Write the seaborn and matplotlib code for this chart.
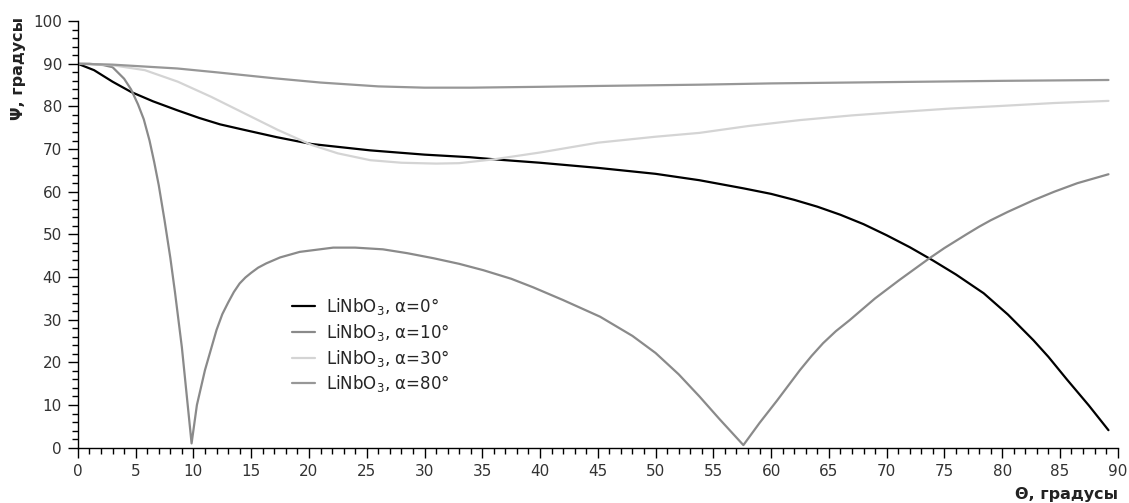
import pandas as pd
import matplotlib
matplotlib.use('Agg')
import matplotlib.pyplot as plt
from matplotlib.ticker import MultipleLocator
import seaborn as sns

# --- данные ---
theta_a0 = [0, 1.4, 3, 4.6, 6.5, 8.6, 10.5, 12.3, 14.4, 17.2, 20.2, 25.3, 30, 33.9,
            36.5, 40, 45, 50, 53.8, 57.6, 60, 62, 64, 66, 68, 70, 72, 74, 76, 78.4,
            80.5, 82.7, 84, 85.6, 87.5, 89.2]
psi_a0 = [90, 88.5, 85.8, 83.4, 81.2, 79.1, 77.3, 75.8, 74.5, 72.8, 71.2, 69.7, 68.7, 68.1,
          67.5, 66.8, 65.6, 64.2, 62.7, 60.8, 59.5, 58.1, 56.5, 54.6, 52.4, 49.8, 47.0,
          43.9, 40.6, 36.2, 31.2, 25.2, 21.3, 16.0, 9.9, 4.1]

theta_a10 = [0, 1, 2.2, 3, 4, 4.6, 5.2, 5.7, 6.2, 6.6, 7.0, 7.5, 8.0, 8.4, 9.0, 9.84,
             10.3, 11, 12, 12.5, 13, 13.5, 14, 14.5, 15, 15.6, 16.3, 17.5, 19.2, 22.1, 24,
             26.4, 28.5, 30.8, 33, 35.1, 37.5, 39.4, 42, 45.2, 48, 50, 52, 53.8, 55.5,
             57.6, 58.3, 59, 60.5, 62.5, 63.5, 64.5, 65.6, 66.8, 69, 71.1, 73.7, 75,
             76.9, 78, 79, 80.5, 82.7, 84.5, 86.5, 89.2]
psi_a10 = [90, 90, 89.7, 89.2, 86.5, 84.0, 80.5, 77.0, 72.0, 67.0, 61.5, 53.3, 44.5, 36.5,
           23.5, 1.0, 10.0, 18.2, 27.6, 31.3, 34.0, 36.5, 38.5, 39.9, 41.0, 42.2, 43.2,
           44.6, 45.9, 46.9, 46.9, 46.5, 45.6, 44.4, 43.1, 41.6, 39.6, 37.6, 34.6, 30.7,
           26.2, 22.2, 17.2, 12.0, 6.8, 0.6, 3.2, 5.8, 11.0, 18.2, 21.5, 24.5, 27.3, 29.9,
           35.0, 39.3, 44.4, 46.8, 50.0, 51.8, 53.3, 55.3, 58.0, 60.0, 62.0, 64.1]

theta_a30 = [0, 2.9, 5.8, 8.65, 11.5, 14.4, 17.3, 20.2, 22.5, 25.3, 28, 31, 33, 36,
             40, 45, 50, 53.8, 58, 62.5, 67, 71.1, 75.5, 79.8, 84.5, 89.2]
psi_a30 = [90, 89.7, 88.5, 85.8, 82.3, 78.4, 74.5, 71.0, 69.0, 67.4, 66.8, 66.6, 66.7, 67.6,
           69.2, 71.5, 72.9, 73.8, 75.4, 76.8, 77.9, 78.7, 79.5, 80.1, 80.8, 81.3]

theta_a80 = [0, 3, 8.6, 12, 17, 21, 26, 30, 34, 40, 45, 53.8, 60, 70, 80, 89.2]
psi_a80 = [90, 89.8, 88.9, 88.0, 86.6, 85.6, 84.7, 84.4, 84.4, 84.6, 84.8, 85.1, 85.4,
           85.7, 86.0, 86.2]

labels = ['LiNbO$_3$, α=0°', 'LiNbO$_3$, α=10°', 'LiNbO$_3$, α=30°', 'LiNbO$_3$, α=80°']
colors = ['#000000', '#8a8a8a', '#d4d4d4', '#979797']

series = [(theta_a0, psi_a0), (theta_a10, psi_a10), (theta_a30, psi_a30), (theta_a80, psi_a80)]

sns.set_style('ticks')
plt.rcParams['font.family'] = ['DejaVu Sans']

fig = plt.figure(figsize=(11.29, 5.03), dpi=100)
ax = fig.add_axes([0.069, 0.110, 0.921, 0.848])

for (th, ps), lab, col in zip(series, labels, colors):
    df = pd.DataFrame({'theta': th, 'psi': ps})
    sns.lineplot(data=df, x='theta', y='psi', ax=ax, color=col, linewidth=1.6,
                 label=lab, estimator=None, sort=False)

ax.set_xlim(0, 90)
ax.set_ylim(0, 100)
ax.xaxis.set_major_locator(MultipleLocator(5))
ax.xaxis.set_minor_locator(MultipleLocator(1))
ax.yaxis.set_major_locator(MultipleLocator(10))
ax.yaxis.set_minor_locator(MultipleLocator(2))
ax.tick_params(which='major', length=7.5, width=1, color='black',
               labelsize=11, labelcolor='#333333', pad=4)
ax.tick_params(which='minor', length=4, width=1, color='black')
sns.despine(ax=ax)
for s in ['left', 'bottom']:
    ax.spines[s].set_color('black')
    ax.spines[s].set_linewidth(1)

ax.set_xlabel('')
ax.set_ylabel('')
fig.text(19 / 1129, 1 - 17 / 503, 'Ψ, градусы', rotation=90, ha='center', va='top',
         fontsize=11.5, fontweight='bold', color='#222222')
fig.text(1118 / 1129, 1 - 494 / 503, 'Θ, градусы', ha='right', va='center',
         fontsize=11.5, fontweight='bold', color='#222222')

ax.legend(loc='upper left', bbox_to_anchor=(0.206, 0.355), frameon=False,
          fontsize=12, handlelength=1.35, handletextpad=0.7, labelspacing=0.28,
          borderpad=0, borderaxespad=0)

fig.savefig('out.png', dpi=100)
